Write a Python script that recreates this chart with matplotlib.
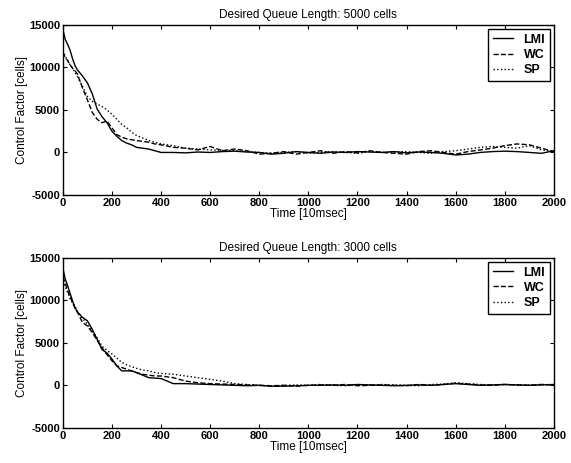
import matplotlib
matplotlib.use("Agg")
import matplotlib.pyplot as plt

plt.rcParams['font.family'] = ['Liberation Sans', 'DejaVu Sans']
plt.rcParams['axes.unicode_minus'] = False

# time samples [10msec]
t = [0, 10, 20, 30, 40, 50, 60, 80, 100, 120, 140, 160, 180, 200, 220, 240, 260, 280, 300,
     325, 350, 375, 400, 450, 500, 550, 600, 650, 700, 750, 800, 850, 900, 950, 1000,
     1050, 1100, 1150, 1200, 1250, 1300, 1350, 1400, 1450, 1500, 1550, 1600, 1650, 1700,
     1750, 1800, 1850, 1900, 1950, 2000]

# Desired queue length 5000 cells
lmi_5000 = [14500, 13300, 12700, 12000, 11000, 10200, 9700, 9000, 8200, 6900, 5100, 4200, 3500, 2500, 1900, 1400, 1100, 900, 600,
            500, 400, 200, 0, 0, -50, 50, 0, 100, 150, 50, 0, -200, -100, 100, 0,
            -100, 50, 0, 100, 50, 0, 100, -50, 50, 0, -100, -300, -200, 0,
            100, 150, 100, 0, -100, 200]
wc_5000 = [11800, 11200, 10800, 10300, 9900, 9600, 9200, 7600, 6200, 4700, 3900, 3500, 3700, 2900, 2100, 1800, 1600, 1500, 1400,
           1300, 1200, 1000, 900, 600, 500, 300, 700, 200, 400, 200, -200, -100, 100, -200, 0,
           200, -100, 100, -50, 200, 0, -100, -200, 100, 200, 0, -200, 100, 300,
           500, 800, 1000, 900, 500, 100]
sp_5000 = [12000, 11300, 10800, 10300, 9900, 9400, 8900, 7800, 6600, 6000, 5700, 5400, 5000, 4500, 3900, 3300, 2900, 2400, 2000,
           1700, 1400, 1200, 1000, 800, 500, 400, 300, 250, 200, 100, 0, -100, 0, 100, -100,
           0, 100, 0, -100, 100, 0, 50, 100, 0, -100, 100, 200, 400, 600,
           700, 600, 500, 800, 300, 100]

# Desired queue length 3000 cells
lmi_3000 = [13800, 12500, 11700, 10800, 9900, 9100, 8600, 8000, 7600, 6600, 5400, 4200, 3800, 3100, 2300, 1700, 1700, 1700, 1500,
            1200, 900, 850, 800, 200, 200, 150, 100, 50, 0, -50, 0, -100, -100, -50, 0,
            0, 50, 0, 100, 50, 0, -50, 0, 50, 0, 100, 200, 100, 0,
            50, 100, 50, 0, 50, 100]
wc_3000 = [12800, 12000, 11100, 10400, 9700, 9100, 8600, 7400, 7000, 6200, 5300, 4400, 3600, 2900, 2300, 2100, 1900, 1700, 1500,
           1300, 1200, 1100, 1100, 900, 500, 300, 200, 150, 100, 50, 0, -50, 0, -100, 0,
           50, 0, 100, -50, 0, 50, 0, -50, 100, 0, 100, 250, 150, 50,
           0, 100, 50, 0, 100, 50]
sp_3000 = [12300, 11600, 10900, 10200, 9700, 9300, 8700, 7900, 7200, 6400, 5600, 4600, 4100, 3700, 3200, 2700, 2400, 2200, 2000,
           1800, 1700, 1500, 1400, 1300, 1100, 900, 700, 500, 200, 100, 0, -100, 0, 50, 0,
           100, 0, -50, 50, 0, 100, 50, 0, -50, 100, 150, 300, 200, 100,
           50, 100, 0, 50, 100, 50]

titles = ['Desired Queue Length: 5000 cells', 'Desired Queue Length: 3000 cells']
series = [(lmi_5000, wc_5000, sp_5000), (lmi_3000, wc_3000, sp_3000)]
labels = ['LMI', 'WC', 'SP']
styles = ['-', '--', ':']

fig = plt.figure(figsize=(5.71, 4.63), dpi=100)
positions = [[0.110, 0.579, 0.860, 0.367], [0.110, 0.076, 0.860, 0.367]]

for pos, title, data in zip(positions, titles, series):
    ax = fig.add_axes(pos)
    for y, lab, ls in zip(data, labels, styles):
        ax.plot(t, y, ls, color='black', lw=1.0, label=lab)
    ax.set_xlim(0, 2000)
    ax.set_ylim(-5000, 15000)
    ax.set_xticks(range(0, 2001, 200))
    ax.set_yticks([-5000, 0, 5000, 10000, 15000])
    ax.tick_params(direction='in', top=True, right=True, labelsize=8, length=3, pad=2)
    for lbl in ax.get_xticklabels() + ax.get_yticklabels():
        lbl.set_fontweight('bold')
    for s in ax.spines.values():
        s.set_linewidth(1.0)
    ax.set_title(title, fontsize=8.5, pad=5)
    ax.set_xlabel('Time [10msec]', fontsize=8.5, labelpad=0)
    ax.set_ylabel('Control Factor [cells]', fontsize=8.5, labelpad=1)
    leg = ax.legend(loc='upper right', prop={'size': 9, 'weight': 'bold'}, fancybox=False,
                    edgecolor='black', borderaxespad=0.3, handlelength=1.6,
                    labelspacing=0.25, borderpad=0.4, handletextpad=0.8, framealpha=1)
    leg.get_frame().set_linewidth(1.0)

fig.savefig('out.png', dpi=100)
